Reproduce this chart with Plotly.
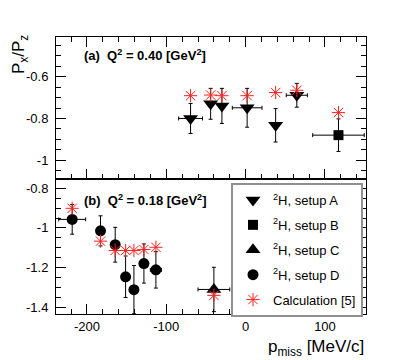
import plotly.graph_objects as go

# ---- data: panel (a) Q^2 = 0.40 ----
a_A_x = [-69.4, -44.1, -29.9, 1.9, 37.8, 64.5]
a_A_y = [-0.800, -0.730, -0.740, -0.749, -0.833, -0.689]
a_A_xerr = [15, 0, 0, 18.7, 0, 13.3]
a_A_yerr = [0.072, 0.074, 0.084, 0.093, 0.080, 0.057]

a_B_x = [117.0]
a_B_y = [-0.880]
a_B_xerr = [32.5]
a_B_yerr = [0.078]

a_calc_x = [-69.4, -44.1, -29.9, 1.9, 37.8, 64.5, 117.0]
a_calc_y = [-0.691, -0.688, -0.691, -0.691, -0.676, -0.665, -0.772]

# ---- data: panel (b) Q^2 = 0.18 ----
b_D_x = [-218.6, -182.9, -164.4, -151.3, -140.8, -128.2, -113.1]
b_D_y = [-0.957, -1.015, -1.085, -1.247, -1.312, -1.180, -1.212]
b_D_xerr = [17, 0, 0, 0, 0, 0, 7]
b_D_yerr = [0.075, 0.076, 0.088, 0.105, 0.122, 0.099, 0.092]

b_C_x = [-40.0]
b_C_y = [-1.311]
b_C_xerr = [20]
b_C_yerr = [0.112]

b_calc_x = [-218.6, -182.9, -164.4, -151.3, -140.8, -128.2, -113.1, -40.0]
b_calc_y = [-0.901, -1.067, -1.114, -1.114, -1.114, -1.109, -1.098, -1.341]

x_tickvals = [-200, -100, 0, 100]
x_ticktext = ["-200", "-100", "0", "100"]
ya_tickvals = [-0.6, -0.8, -1.0]
ya_ticktext = ["-0.6", "-0.8", "-1"]
yb_tickvals = [-0.8, -1.0, -1.2, -1.4]
yb_ticktext = ["-0.8", "-1", "-1.2", "-1.4"]

FONT = "Liberation Sans, Arial, sans-serif"
RED = "#ff2020"

def eb(arr):
    return dict(type="data", array=arr, visible=True, color="black",
                thickness=1, width=2)

fig = go.Figure()

# legend order: A, B, C, D, Calc
fig.add_trace(go.Scatter(
    x=a_A_x, y=a_A_y, mode="markers", name="<sup>2</sup>H, setup A",
    marker=dict(symbol="triangle-down", size=13, color="black"),
    error_x=eb(a_A_xerr), error_y=eb(a_A_yerr),
    xaxis="x2", yaxis="y2", legendgroup="A"))
fig.add_trace(go.Scatter(
    x=a_B_x, y=a_B_y, mode="markers", name="<sup>2</sup>H, setup B",
    marker=dict(symbol="square", size=10, color="black"),
    error_x=eb(a_B_xerr), error_y=eb(a_B_yerr),
    xaxis="x2", yaxis="y2", legendgroup="B"))
fig.add_trace(go.Scatter(
    x=b_C_x, y=b_C_y, mode="markers", name="<sup>2</sup>H, setup C",
    marker=dict(symbol="triangle-up", size=13, color="black"),
    error_x=eb(b_C_xerr), error_y=eb(b_C_yerr),
    xaxis="x", yaxis="y", legendgroup="C"))
fig.add_trace(go.Scatter(
    x=b_D_x, y=b_D_y, mode="markers", name="<sup>2</sup>H, setup D",
    marker=dict(symbol="circle", size=11, color="black"),
    error_x=eb(b_D_xerr), error_y=eb(b_D_yerr),
    xaxis="x", yaxis="y", legendgroup="D"))
fig.add_trace(go.Scatter(
    x=b_calc_x, y=b_calc_y, mode="markers", name="Calculation [5]",
    marker=dict(symbol="asterisk-open", size=11, color=RED,
                line=dict(color=RED, width=1)),
    xaxis="x", yaxis="y", legendgroup="E"))
fig.add_trace(go.Scatter(
    x=a_calc_x, y=a_calc_y, mode="markers", name="Calculation [5]",
    marker=dict(symbol="asterisk-open", size=11, color=RED,
                line=dict(color=RED, width=1)),
    xaxis="x2", yaxis="y2", legendgroup="E", showlegend=False))

split = 135 / 277

common_x = dict(range=[-239, 151.7], showline=True, linecolor="black", linewidth=1,
                ticks="inside", ticklen=10, tickcolor="black", showgrid=False,
                zeroline=False, tickvals=x_tickvals,
                minor=dict(dtick=20, tick0=0, ticks="inside", ticklen=5,
                           tickcolor="black", showgrid=False))

# page body has an 8px margin, so the figure is 8px smaller and margins shifted
fig.update_layout(
    width=407, height=352,
    margin=dict(l=48, r=49, t=29, b=46),
    paper_bgcolor="white", plot_bgcolor="white",
    font=dict(family=FONT, size=13, color="black"),
    xaxis=dict(**common_x, anchor="y", mirror=True, ticktext=x_ticktext,
               tickfont=dict(size=13)),
    xaxis2=dict(**common_x, anchor="y2", matches="x", mirror="ticks",
                showticklabels=False),
    yaxis=dict(domain=[0, split], range=[-1.435, -0.753], anchor="x",
               showline=True, linecolor="black", linewidth=1, mirror="ticks",
               ticks="inside", ticklen=10, tickcolor="black", showgrid=False,
               zeroline=False, tickvals=yb_tickvals, ticktext=yb_ticktext,
               tickfont=dict(size=13), ticklabelstandoff=4,
               minor=dict(dtick=0.05, tick0=0, ticks="inside", ticklen=5,
                          tickcolor="black", showgrid=False)),
    yaxis2=dict(domain=[split, 1], range=[-1.09, -0.41], anchor="x2",
                showline=True, linecolor="black", linewidth=1, mirror="ticks",
                ticks="inside", ticklen=10, tickcolor="black", showgrid=False,
                zeroline=False, tickvals=ya_tickvals, ticktext=ya_ticktext,
                tickfont=dict(size=13), ticklabelstandoff=4,
                minor=dict(dtick=0.05, tick0=0, ticks="inside", ticklen=5,
                           tickcolor="black", showgrid=False)),
    showlegend=True,
    legend=dict(x=(231 - 56) / 310, y=(314 - 183) / 277, xanchor="left", yanchor="top",
                xref="paper", yref="paper",
                bgcolor="white", bordercolor="#909090", borderwidth=2,
                font=dict(family=FONT, size=13, color="black"),
                traceorder="grouped", tracegroupgap=5),
)

bold = dict(family="Liberation Sans, Arial, sans-serif", size=13, color="black")
fig.add_annotation(xref="paper", yref="paper", x=(82 - 56) / 310, y=(314 - 55) / 277,
                   xanchor="left", yanchor="middle", showarrow=False,
                   text="<b>(a)\u00a0\u00a0Q<sup>2</sup> = 0.40 [GeV<sup>2</sup>]</b>",
                   font=bold)
fig.add_annotation(xref="paper", yref="paper", x=(82 - 56) / 310, y=(314 - 200) / 277,
                   xanchor="left", yanchor="middle", showarrow=False,
                   text="<b>(b)\u00a0\u00a0Q<sup>2</sup> = 0.18 [GeV<sup>2</sup>]</b>",
                   font=bold)
fig.add_annotation(xref="paper", yref="paper", x=(20 - 56) / 310, y=(314 - 55) / 277,
                   xanchor="center", yanchor="middle", showarrow=False, textangle=-90,
                   text="P<sub>x</sub>/P<sub>z</sub>",
                   font=dict(family=FONT, size=17, color="black"))
fig.add_annotation(xref="paper", yref="paper", x=1.0, y=(314 - 335) / 277,
                   xanchor="right", yanchor="top", showarrow=False,
                   text="p<sub>miss</sub> [MeV/c]",
                   font=dict(family=FONT, size=17, color="black"))

fig.write_html("out.html")
